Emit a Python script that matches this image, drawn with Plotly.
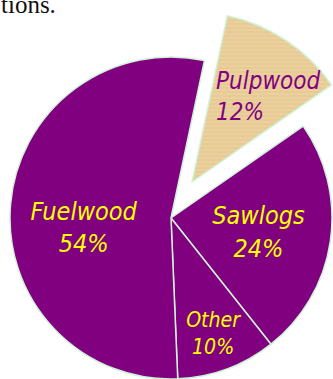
import plotly.graph_objects as go

labels = ["Pulpwood", "Sawlogs", "Other", "Fuelwood"]
values = [12, 24, 10, 54]
caption_tail = "tions."

PURPLE = "#800080"
TAN = "#E8CB94"
EDGE = "#CFF3D6"
TRANSP = "rgba(0,0,0,0)"
FONT = "DejaVu Sans Condensed, DejaVu Sans, sans-serif"
NB = "\u00a0"

W, H = 370, 379

def px_dom(x0, x1, y0, y1):
    return dict(x=[x0 / W, x1 / W], y=[1 - y1 / H, 1 - y0 / H])

tmpl = "<i>%{label}<br>%{percent}</i>"
tmpl_saw = f"<i>%{{label}}{NB*2}<br>%{{percent}}{NB*2}</i>"
tmpl_fuel = f"<i>{NB}<br>%{{label}}{NB*2}<br>%{{percent}}{NB*2}</i>"

main = go.Pie(
    labels=labels, values=values, sort=False, direction="clockwise", rotation=12,
    marker=dict(colors=[TRANSP, PURPLE, PURPLE, PURPLE],
                line=dict(color=EDGE, width=[0, 1.5, 1.5, 1.5])),
    texttemplate=["", tmpl_saw, tmpl, tmpl_fuel], textposition="inside",
    insidetextorientation="horizontal",
    textfont=dict(family=FONT, size=25, color="#FFFF00"),
    hoverinfo="skip", showlegend=False,
    domain=px_dom(10, 332, 57, 379),
)

pulled = go.Pie(
    labels=labels, values=values, sort=False, direction="clockwise", rotation=12,
    marker=dict(colors=[TAN, TRANSP, TRANSP, TRANSP],
                line=dict(color=EDGE, width=[1.5, 0, 0, 0]),
                pattern=dict(shape=["-", "", "", ""], fillmode="overlay",
                             fgcolor="#F7EBCF", fgopacity=0.35, size=4, solidity=0.25)),
    textinfo="none",
    hoverinfo="skip", showlegend=False,
    domain=px_dom(22, 362, 12, 352),
)

fig = go.Figure([main, pulled])
fig.update_layout(
    width=W, height=H, margin=dict(l=0, r=0, t=0, b=0),
    paper_bgcolor="white", plot_bgcolor="white",
    annotations=[
        dict(text=caption_tail, xref="paper", yref="paper",
             x=58 / W, y=1 - 5 / H, xanchor="right", yanchor="middle",
             showarrow=False,
             font=dict(family="Liberation Serif, Times New Roman, serif",
                       size=25, color="#111111")),
        dict(text=f"<i>{labels[0]}<br>{values[0]}%</i>", xref="paper", yref="paper",
             x=214 / W, y=1 - 96 / H, xanchor="left", yanchor="middle", align="left",
             showarrow=False, font=dict(family=FONT, size=24, color=PURPLE)),
    ],
)

fig.write_html("out.html", post_script=(
    "document.documentElement.style.overflow='hidden';"
    "document.body.style.overflow='hidden';document.body.style.margin='0';"
))
